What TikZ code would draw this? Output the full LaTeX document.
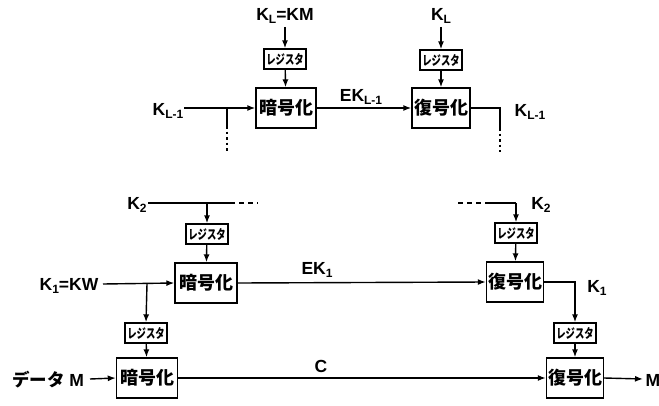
\documentclass[tikz,border=0pt]{standalone}
\usepackage{fontspec}
\usepackage{graphicx}
\setmainfont{Liberation Sans}
\newfontfamily\cjk{Noto Sans CJK JP}
\usetikzlibrary{arrows.meta}
\begin{document}
\begin{tikzpicture}[x=1pt,y=-1pt,
  ln/.style={line width=1.4pt},
  box/.style={draw,line width=1.4pt,minimum height=40pt,inner sep=0pt,font=\cjk\bfseries\fontsize{18}{18}\selectfont},
  enc/.style={box,minimum width=61pt},
  dec/.style={box,minimum width=57pt},
  reg/.style={draw,line width=1.4pt,minimum width=42pt,minimum height=20pt,inner sep=0pt,font=\cjk\bfseries\fontsize{13}{13}\selectfont},
  lab/.style={font=\bfseries\fontsize{17.5}{17.5}\selectfont,inner sep=0pt},
  arr/.style={ln,-{Latex[length=8pt,width=6pt]}},
  dots/.style={ln,dash pattern=on 2.5pt off 3pt},
  dsh/.style={ln,dash pattern=on 5pt off 4pt}
]
\useasboundingbox (0,0) rectangle (659,405);
\newcommand{\regtext}{\scalebox{0.72}[1]{レジスタ}}
\newcommand{\sbs}[1]{\raisebox{-0.35ex}{\fontsize{12}{12}\selectfont #1}}

% ---------- top part ----------
\node[lab] (klkm) at (285,16) {K\sbs{L}=KM};
\node[reg] (r1) at (285,59) {\regtext};
\node[enc,minimum width=60pt] (e1) at (286,108) {暗号化};
\node[lab] (kl) at (441,16) {K\sbs{L}};
\node[reg] (r2) at (441,60) {\regtext};
\node[dec,minimum width=58pt] (d1) at (441,108) {復号化};
\node[lab] (klm1) at (168,111) {K\sbs{L-1}};
\node[lab] (eklm1) at (361,97) {EK\sbs{L-1}};
\node[lab] (klm1r) at (530,112) {K\sbs{L-1}};
\coordinate (t1) at (184,108);
\coordinate (tb) at (227,108);
\coordinate (tb2) at (227,126);
\coordinate (tb3) at (227,152);
\coordinate (tr) at (500,108);
\coordinate (tr2) at (500,128);
\coordinate (tr3) at (500,152);

\draw[arr] (klkm.south) ++(0,3) -- (r1.north);
\draw[arr] (r1) -- (e1);
\draw[arr] (kl.south) ++(0,3) -- (r2.north);
\draw[arr] (r2) -- (d1);
\draw[arr] (t1) -- (e1.west);
\draw[ln] (tb) -- (tb2);
\draw[dots] (tb2) -- (tb3);
\draw[arr] (e1) -- (d1);
\draw[ln] (d1.east) -- (tr) -- (tr2);
\draw[dots] (tr2) -- (tr3);

% ---------- bottom part ----------
\node[lab] (k2l) at (137,205) {K\sbs{2}};
\node[reg] (r3) at (207,234) {\regtext};
\node[enc,minimum width=62pt] (e2) at (206,283) {暗号化};
\node[lab] (k1kw) at (69,286) {K\sbs{1}=KW};
\node[reg] (r4) at (146,333) {\regtext};
\node[enc] (e3) at (147,378) {暗号化};
\node[lab] (data) at (48,380) {{\cjk\bfseries データ} M};
\node[lab] (ek1) at (317,270) {EK\sbs{1}};
\node[lab] (cl) at (321,366) {C};
\node[reg] (r5) at (516,233) {\regtext};
\node[dec] (d2) at (515,282) {復号化};
\node[lab] (k2r) at (541,205) {K\sbs{2}};
\node[reg] (r6) at (575,333) {\regtext};
\node[dec] (d3) at (575,378) {復号化};
\node[lab] (k1r) at (597,288) {K\sbs{1}};
\node[lab] (mo) at (653,380) {M};

\coordinate (k2a) at (148,203);
\coordinate (k2b) at (207,203);
\coordinate (k2c) at (230,203);
\coordinate (k2d) at (258,203);
\coordinate (k1a) at (103,284);
\coordinate (k1b) at (147,284);
\coordinate (dm) at (90,379);
\coordinate (k2e) at (458,203);
\coordinate (k2f) at (486,203);
\coordinate (k2g) at (516,203);
\coordinate (k1c) at (575,282);
\coordinate (mo2) at (643,379);

\draw[ln] (k2a) -- (k2c);
\draw[dsh] (k2c) -- (k2d);
\draw[arr] (k2b) -- (r3.north);
\draw[arr] (r3) -- (e2);
\draw[arr] (k1a) -- (e2.west);
\draw[arr] (k1b) -- (r4.north);
\draw[arr] (r4) -- (e3);
\draw[arr] (dm) -- (e3.west);
\draw[arr] (e2.east) -- (d2.west);
\draw[arr] (e3.east) -- (d3.west);
\draw[dsh] (k2e) -- (k2f);
\draw[ln] (k2f) -- (k2g);
\draw[arr] (k2g) -- (r5.north);
\draw[arr] (r5) -- (d2);
\draw[arr] (d2.east) -- (k1c) -- (r6.north);
\draw[arr] (r6) -- (d3);
\draw[arr] (d3.east) -- (mo2);
\end{tikzpicture}
\end{document}
